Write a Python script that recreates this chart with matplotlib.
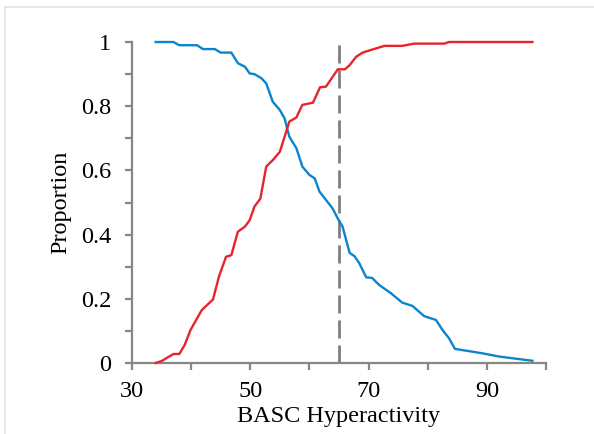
import matplotlib
matplotlib.use("Agg")
import matplotlib.pyplot as plt
import numpy as np
from matplotlib.lines import Line2D
from matplotlib.ticker import MultipleLocator, FuncFormatter

# BASC Hyperactivity score vs proportion
blue_x = [34, 37, 38, 41, 42, 44, 45, 46.8, 47.9, 49.1, 49.9, 50.7, 51.9, 52.7, 53.8, 55,
          55.8, 56.6, 57.8, 58.8, 60, 60.9, 61.7, 62.8, 63.9, 64.8, 65.6, 66.8, 67.6, 68.4,
          69.6, 70.6, 71.8, 73.8, 75.7, 77.4, 79.4, 81.4, 82.5, 83.6, 84.6, 89.3, 92.1, 97.7]
blue_y = [1.0, 1.0, 0.99, 0.99, 0.978, 0.978, 0.967, 0.967, 0.934, 0.923, 0.902, 0.90, 0.887,
          0.871, 0.814, 0.788, 0.762, 0.705, 0.669, 0.612, 0.586, 0.575, 0.534, 0.508, 0.482,
          0.45, 0.425, 0.343, 0.333, 0.312, 0.267, 0.265, 0.243, 0.217, 0.188, 0.178, 0.146,
          0.134, 0.103, 0.077, 0.044, 0.030, 0.02, 0.007]

red_x = [34, 35, 37, 38, 38.9, 39.9, 41.8, 43.7, 44.7, 45.9, 46.8, 47.9, 49.1, 49.9, 50.7,
         51.7, 52.7, 53.8, 55, 56.6, 57.8, 58.8, 60.6, 61.8, 62.8, 64.8, 66, 66.8, 67.9, 69,
         70.7, 72.7, 75.7, 77.7, 82.8, 83.6, 97.7]
red_y = [0, 0.006, 0.028, 0.028, 0.056, 0.103, 0.165, 0.198, 0.269, 0.331, 0.336, 0.409,
         0.425, 0.445, 0.487, 0.512, 0.612, 0.632, 0.658, 0.752, 0.765, 0.804, 0.811, 0.859,
         0.861, 0.915, 0.915, 0.928, 0.954, 0.967, 0.977, 0.988, 0.988, 0.995, 0.995, 1.0, 1.0]

cutoff = 65

plt.rcParams["font.family"] = ["Liberation Serif", "DejaVu Serif"]

fig = plt.figure(figsize=(5.94, 4.34), dpi=100)
ax = fig.add_axes([0.2222, 0.1636, 0.697, 0.7396])

ax.plot(blue_x, blue_y, color="#0a85cc", lw=1.7, clip_on=False, zorder=3)
ax.plot(red_x, red_y, color="#e8232a", lw=1.7, clip_on=False, zorder=3)
ax.axvline(cutoff, ymin=0, ymax=1, color="#7f7f7f", lw=2.0, dashes=(6.5, 2.5), zorder=2)

ax.set_xlim(30, 100)
ax.set_ylim(0, 1)
ax.set_xticks([30, 50, 70, 90])
ax.xaxis.set_minor_locator(MultipleLocator(10))
ax.yaxis.set_major_locator(MultipleLocator(0.2))
ax.yaxis.set_minor_locator(MultipleLocator(0.1))
ax.yaxis.set_major_formatter(FuncFormatter(lambda v, p: "%g" % round(v, 2)))

for s in ["top", "right"]:
    ax.spines[s].set_visible(False)
for s in ["left", "bottom"]:
    ax.spines[s].set_color("#878787")
    ax.spines[s].set_linewidth(1.6)

ax.tick_params(which="both", direction="out", color="#878787", width=1.6, length=5,
               labelsize=17.5)
ax.tick_params(axis="y", pad=10)
ax.tick_params(axis="x", pad=8)

ax.set_xlabel("BASC Hyperactivity", fontsize=17.5, labelpad=3)
ax.set_ylabel("Proportion", fontsize=17.5, labelpad=7)

# light frame around the chart area
fig.add_artist(Line2D([5 / 594, 5 / 594], [0, 1 - 7 / 434], color="#e3e3e3", lw=1.2))
fig.add_artist(Line2D([5 / 594, 1], [1 - 7 / 434, 1 - 7 / 434], color="#e3e3e3", lw=1.2))

fig.savefig("out.png", dpi=100)
plt.close(fig)
